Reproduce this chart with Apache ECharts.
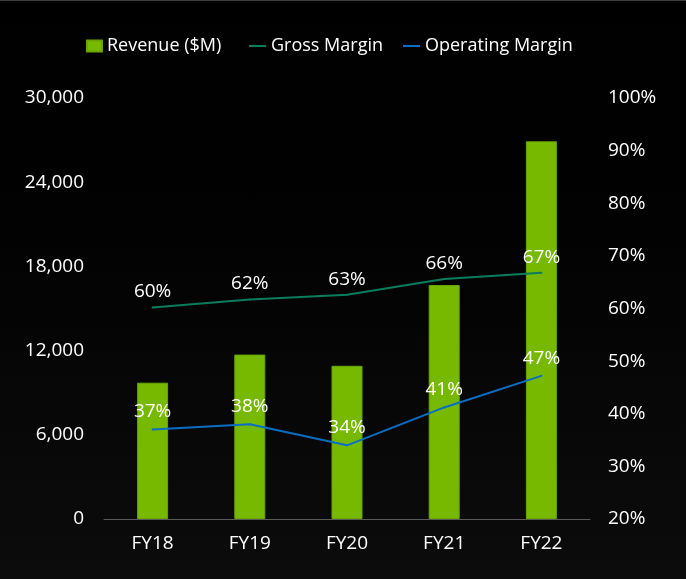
<!DOCTYPE html>
<html>
<head>
<meta charset="utf-8">
<script src="https://cdn.jsdelivr.net/npm/echarts@6/dist/echarts.min.js"></script>
<style>
html,body{margin:0;padding:0;background:#000;}
#c{width:686px;height:578px;border-top:1px solid #3a3a3a;background:linear-gradient(#000 0%,#020202 40%,#0c0c0c 100%);}
</style>
</head>
<body>
<div id="c"></div>
<script>
var categories = ['FY18', 'FY19', 'FY20', 'FY21', 'FY22'];
var revenue = [9714, 11716, 10918, 16675, 26914];
var grossMargin = [60.2, 61.7, 62.6, 65.6, 66.8];
var operatingMargin = [37.0, 38.0, 34.0, 41.2, 47.2];
var leftTicks = [0, 6000, 12000, 18000, 24000, 30000];
var rightTicks = [20, 30, 40, 50, 60, 70, 80, 90, 100];

var FONT = 'Open Sans';
var chart = echarts.init(document.getElementById('c'), null, {renderer: 'canvas'});
var legendText = {color: '#fff', fontSize: 18, fontFamily: FONT};
chart.setOption({
  backgroundColor: 'transparent',
  animation: false,
  grid: {left: 104, right: 96, top: 97, bottom: 60, outerBoundsMode: 'none'},
  legend: [
    {data: ['Revenue ($M)'], left: 86, top: 36, padding: 0, icon: 'rect', itemWidth: 15, itemHeight: 11, textStyle: legendText},
    {data: ['Gross Margin'], left: 249, top: 36, padding: 0, icon: 'rect', itemWidth: 17, itemHeight: 2, textStyle: legendText},
    {data: ['Operating Margin'], left: 403, top: 36, padding: 0, icon: 'rect', itemWidth: 17, itemHeight: 2, textStyle: legendText}
  ],
  xAxis: {
    type: 'category',
    data: categories,
    axisLine: {lineStyle: {color: '#5a5a5a', width: 1}},
    axisTick: {show: false},
    axisLabel: {color: '#fff', fontSize: 19, fontFamily: FONT, margin: 15}
  },
  yAxis: [
    {
      type: 'value', min: leftTicks[0], max: leftTicks[leftTicks.length - 1], interval: leftTicks[1] - leftTicks[0],
      splitLine: {show: false}, axisLine: {show: false}, axisTick: {show: false},
      axisLabel: {color: '#fff', fontSize: 19, fontFamily: FONT, margin: 20,
        formatter: function (v) { return v.toLocaleString('en-US'); }}
    },
    {
      type: 'value', min: rightTicks[0], max: rightTicks[rightTicks.length - 1], interval: rightTicks[1] - rightTicks[0],
      splitLine: {show: false}, axisLine: {show: false}, axisTick: {show: false},
      axisLabel: {color: '#fff', fontSize: 19, fontFamily: FONT, margin: 18, formatter: '{value}%'}
    }
  ],
  series: [
    {
      name: 'Revenue ($M)', type: 'bar', data: revenue, barWidth: 31, yAxisIndex: 0,
      itemStyle: {color: '#76b900', borderColor: '#6aa500', borderWidth: 1}
    },
    {
      name: 'Gross Margin', type: 'line', data: grossMargin, yAxisIndex: 1,
      color: '#0a7d5c', symbol: 'circle', symbolSize: 2,
      lineStyle: {color: '#0a7d5c', width: 2},
      label: {show: true, position: 'top', distance: 5, color: '#fff', fontSize: 19, fontFamily: FONT,
        formatter: function (p) { return Math.round(p.value) + '%'; }}
    },
    {
      name: 'Operating Margin', type: 'line', data: operatingMargin, yAxisIndex: 1,
      color: '#0a6ec4', symbol: 'circle', symbolSize: 2,
      lineStyle: {color: '#0a6ec4', width: 2},
      label: {show: true, position: 'top', distance: 7, color: '#fff', fontSize: 19, fontFamily: FONT,
        formatter: function (p) { return Math.round(p.value) + '%'; }}
    }
  ]
});
</script>
</body>
</html>
